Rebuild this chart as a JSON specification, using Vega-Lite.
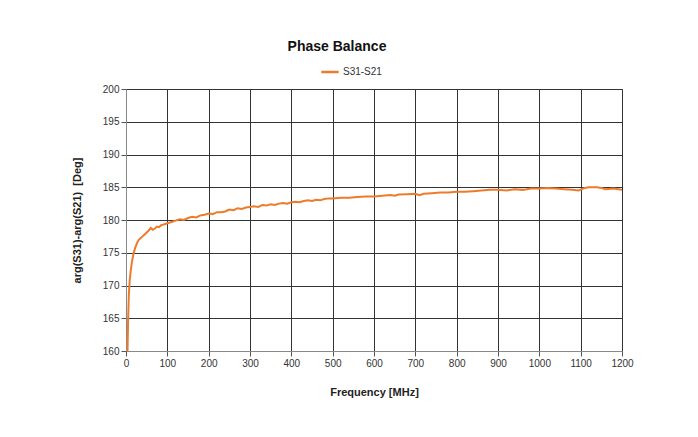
{
  "$schema": "https://vega.github.io/schema/vega-lite/v6.json",
  "width": 496,
  "height": 262,
  "autosize": "none",
  "padding": {"left": 126, "top": 89, "right": 76, "bottom": 86},
  "background": "white",
  "title": {
    "text": "Phase Balance",
    "font": "Liberation Sans",
    "fontSize": 14,
    "fontWeight": "bold",
    "color": "#111111",
    "anchor": "middle",
    "dx": -37,
    "offset": 8
  },
  "data": {
    "values": [
      {"f": 3, "v": 158}, {"f": 4, "v": 161}, {"f": 5, "v": 164.5}, {"f": 7, "v": 168.8}, {"f": 9, "v": 170.8},
      {"f": 11, "v": 172}, {"f": 14, "v": 173.5}, {"f": 18, "v": 174.8}, {"f": 22, "v": 175.7}, {"f": 26, "v": 176.4},
      {"f": 30, "v": 176.9}, {"f": 35, "v": 177.2}, {"f": 40, "v": 177.5}, {"f": 45, "v": 177.8}, {"f": 50, "v": 178.1},
      {"f": 55, "v": 178.4}, {"f": 60, "v": 178.8}, {"f": 65, "v": 178.5}, {"f": 70, "v": 178.7}, {"f": 75, "v": 179.0},
      {"f": 80, "v": 178.9}, {"f": 85, "v": 179.2}, {"f": 90, "v": 179.3}, {"f": 95, "v": 179.4}, {"f": 100, "v": 179.5},
      {"f": 110, "v": 179.7}, {"f": 120, "v": 179.9}, {"f": 130, "v": 180.1}, {"f": 140, "v": 180.0}, {"f": 150, "v": 180.3},
      {"f": 160, "v": 180.5}, {"f": 170, "v": 180.4}, {"f": 180, "v": 180.7}, {"f": 190, "v": 180.8}, {"f": 200, "v": 181.0},
      {"f": 210, "v": 180.9}, {"f": 220, "v": 181.2}, {"f": 230, "v": 181.2}, {"f": 240, "v": 181.3}, {"f": 250, "v": 181.6},
      {"f": 260, "v": 181.5}, {"f": 270, "v": 181.8}, {"f": 280, "v": 181.7}, {"f": 290, "v": 181.9}, {"f": 300, "v": 182.0},
      {"f": 310, "v": 182.1}, {"f": 320, "v": 182.0}, {"f": 330, "v": 182.3}, {"f": 340, "v": 182.2}, {"f": 350, "v": 182.4},
      {"f": 360, "v": 182.3}, {"f": 370, "v": 182.5}, {"f": 380, "v": 182.6}, {"f": 390, "v": 182.5}, {"f": 400, "v": 182.7},
      {"f": 410, "v": 182.8}, {"f": 420, "v": 182.7}, {"f": 430, "v": 182.9}, {"f": 440, "v": 183.0}, {"f": 450, "v": 182.9},
      {"f": 460, "v": 183.1}, {"f": 470, "v": 183.0}, {"f": 480, "v": 183.2}, {"f": 490, "v": 183.3}, {"f": 500, "v": 183.3},
      {"f": 520, "v": 183.4}, {"f": 540, "v": 183.4}, {"f": 560, "v": 183.5}, {"f": 580, "v": 183.6}, {"f": 600, "v": 183.6},
      {"f": 620, "v": 183.7}, {"f": 640, "v": 183.8}, {"f": 650, "v": 183.7}, {"f": 660, "v": 183.9}, {"f": 680, "v": 183.95},
      {"f": 700, "v": 184.0}, {"f": 710, "v": 183.8}, {"f": 720, "v": 184.0}, {"f": 740, "v": 184.1}, {"f": 760, "v": 184.2},
      {"f": 780, "v": 184.2}, {"f": 800, "v": 184.3}, {"f": 820, "v": 184.3}, {"f": 840, "v": 184.4}, {"f": 860, "v": 184.5},
      {"f": 880, "v": 184.6}, {"f": 900, "v": 184.6}, {"f": 920, "v": 184.5}, {"f": 940, "v": 184.7}, {"f": 960, "v": 184.6},
      {"f": 980, "v": 184.8}, {"f": 1000, "v": 184.8}, {"f": 1020, "v": 184.9}, {"f": 1040, "v": 184.8}, {"f": 1060, "v": 184.7},
      {"f": 1080, "v": 184.6}, {"f": 1095, "v": 184.5}, {"f": 1110, "v": 184.9}, {"f": 1120, "v": 185.0}, {"f": 1140, "v": 185.0},
      {"f": 1150, "v": 184.9}, {"f": 1160, "v": 184.7}, {"f": 1180, "v": 184.8}, {"f": 1200, "v": 184.6}
    ]
  },
  "mark": {"type": "line", "strokeWidth": 2, "clip": true, "interpolate": "linear"},
  "encoding": {
    "x": {
      "field": "f",
      "type": "quantitative",
      "scale": {"domain": [0, 1200], "nice": false, "zero": false},
      "axis": {"values": [0,100,200,300,400,500,600,700,800,900,1000,1100,1200], "format": "d", "labelFlush": false, "labelOverlap": false, "title": "Frequency [MHz]", "titlePadding": 18}
    },
    "y": {
      "field": "v",
      "type": "quantitative",
      "scale": {"domain": [160, 200], "nice": false, "zero": false},
      "axis": {"values": [160,165,170,175,180,185,190,195,200], "format": "d", "labelFlush": false, "labelOverlap": false, "title": "arg(S31)-arg(S21)\u00a0\u00a0[Deg]", "titlePadding": 20}
    },
    "color": {
      "datum": "S31-S21",
      "type": "nominal",
      "scale": {"range": ["#EE7B2A"]},
      "legend": {"title": null, "orient": "none", "legendX": 194, "legendY": -27, "direction": "horizontal", "symbolType": "stroke", "symbolSize": 300, "symbolStrokeWidth": 2.5, "labelFont": "Liberation Sans", "labelFontSize": 10, "labelColor": "#333333", "labelOffset": 3}
    }
  },
  "config": {
    "view": {"stroke": "#888888", "strokeWidth": 1},
    "axis": {
      "grid": true,
      "gridColor": "#333333",
      "gridWidth": 1,
      "gridOpacity": 1,
      "domainColor": "#888888",
      "tickColor": "#555555",
      "tickSize": 5,
      "labelFont": "Liberation Sans",
      "labelFontSize": 10,
      "labelColor": "#333333",
      "titleFont": "Liberation Sans",
      "titleFontSize": 11,
      "titleFontWeight": "bold",
      "titleColor": "#222222"
    }
  }
}
